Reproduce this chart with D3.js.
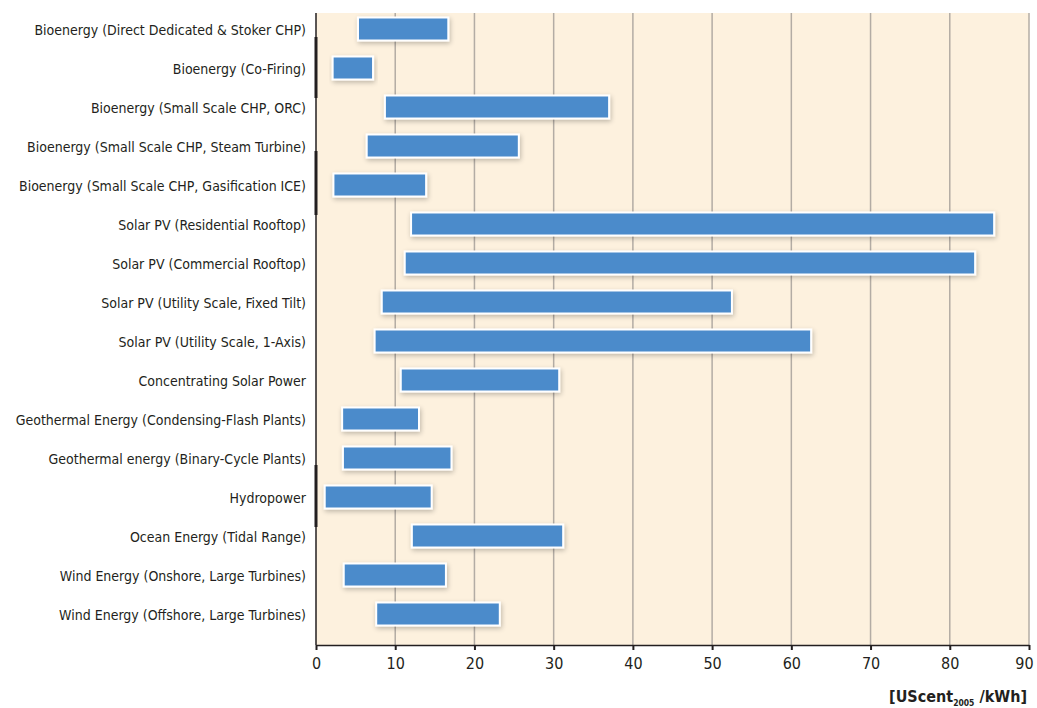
<!DOCTYPE html>
<html><head><meta charset="utf-8">
<script src="https://cdn.jsdelivr.net/npm/d3@7"></script>
<style>body{margin:0;background:#fff}svg{display:block}</style>
</head><body>
<svg id="c" width="1037" height="708"></svg>
<script>
const categories = [
  "Bioenergy (Direct Dedicated & Stoker CHP)",
  "Bioenergy (Co-Firing)",
  "Bioenergy (Small Scale CHP, ORC)",
  "Bioenergy (Small Scale CHP, Steam Turbine)",
  "Bioenergy (Small Scale CHP, Gasification ICE)",
  "Solar PV (Residential Rooftop)",
  "Solar PV (Commercial Rooftop)",
  "Solar PV (Utility Scale, Fixed Tilt)",
  "Solar PV (Utility Scale, 1-Axis)",
  "Concentrating Solar Power",
  "Geothermal Energy (Condensing-Flash Plants)",
  "Geothermal energy (Binary-Cycle Plants)",
  "Hydropower",
  "Ocean Energy (Tidal Range)",
  "Wind Energy (Onshore, Large Turbines)",
  "Wind Energy (Offshore, Large Turbines)"
];
const lowValues  = [5.3, 2.1, 8.7, 6.4, 2.2, 12.0, 11.2, 8.3, 7.4, 10.7, 3.3, 3.4, 1.1, 12.1, 3.5, 7.6];
const highValues = [16.7, 7.2, 37.0, 25.6, 13.9, 85.6, 83.2, 52.5, 62.5, 30.7, 13.0, 17.1, 14.6, 31.2, 16.4, 23.2];
const xTicks = [0, 10, 20, 30, 40, 50, 60, 70, 80, 90];

const svg = d3.select("#c");
const L = 316, R = 1029, T = 13, B = 645;
const font = "'DejaVu Sans Condensed','Liberation Sans Narrow',sans-serif";
const ink = "#231f20";

const x = d3.scaleLinear().domain([0, 90]).range([L, R]);
const y = d3.scaleBand().domain(categories).range([9.5, 633.5]).paddingInner(0.41).paddingOuter(0.205);
const mid = c => y(c) + y.bandwidth() / 2;

const defs = svg.append("defs");
const f = defs.append("filter").attr("id", "sh").attr("x", "-10%").attr("y", "-40%").attr("width", "120%").attr("height", "180%");
f.append("feGaussianBlur").attr("in", "SourceAlpha").attr("stdDeviation", 2.5);
f.append("feOffset").attr("dx", 1).attr("dy", 1.5).attr("result", "b");
f.append("feComponentTransfer").append("feFuncA").attr("type", "linear").attr("slope", 0.25);
const m = f.append("feMerge"); m.append("feMergeNode"); m.append("feMergeNode").attr("in", "SourceGraphic");

svg.append("rect").attr("x", L).attr("y", T).attr("width", R - L).attr("height", B - T).attr("fill", "#fdf1de");

svg.append("g").selectAll("line").data(xTicks.slice(1)).join("line")
  .attr("x1", d => x(d)).attr("x2", d => x(d)).attr("y1", T).attr("y2", B)
  .attr("stroke", "#b3aca4").attr("stroke-width", 1.5);

const data = categories.map((c, i) => ({c, lo: lowValues[i], hi: highValues[i]}));
svg.append("g").selectAll("rect").data(data).join("rect")
  .attr("x", d => x(d.lo)).attr("width", d => x(d.hi) - x(d.lo))
  .attr("y", d => y(d.c)).attr("height", y.bandwidth())
  .attr("fill", "#4b8bcb").attr("stroke", "#ffffff").attr("stroke-width", 2)
  .attr("filter", "url(#sh)");

// y axis
const ya = svg.append("g").attr("transform", `translate(${L},0)`)
  .call(d3.axisLeft(y).tickSize(0).tickPadding(10));
ya.select(".domain").remove();
ya.selectAll("text").attr("font-family", font).attr("font-size", 14).attr("fill", ink)
  .attr("transform", "translate(0,2)");

svg.append("line").attr("x1", L).attr("x2", L).attr("y1", T).attr("y2", B).attr("stroke", ink).attr("stroke-width", 1.5);
// thick marks on the left axis
[[0, 8, 1, 30], [3, 5, 4, 30], [11, 7, 12, 30]].forEach(([a, da, b, db]) => {
  svg.append("line").attr("x1", L).attr("x2", L)
    .attr("y1", mid(categories[a]) + da).attr("y2", mid(categories[b]) + db)
    .attr("stroke", ink).attr("stroke-width", 3);
});

// x axis
const xa = svg.append("g").attr("transform", `translate(0,${B})`)
  .call(d3.axisBottom(x).tickValues(xTicks).tickSize(5).tickSizeOuter(0).tickPadding(8));
xa.select(".domain").attr("stroke", ink).attr("stroke-width", 1.5);
xa.selectAll(".tick line").attr("stroke", ink).attr("stroke-width", 2);
xa.selectAll("text").attr("font-family", font).attr("font-size", 16).attr("fill", ink)
  .attr("dx", d => d === 90 ? -5 : 0);

const u = svg.append("text").attr("x", 1027).attr("y", 702).attr("text-anchor", "end")
  .attr("font-family", font).attr("font-size", 16).attr("font-weight", "bold").attr("fill", ink);
u.append("tspan").text("[UScent");
u.append("tspan").attr("font-size", 8.5).attr("dy", 4).text("2005");
u.append("tspan").attr("dy", -4).text(" /kWh]");
</script>
</body></html>
